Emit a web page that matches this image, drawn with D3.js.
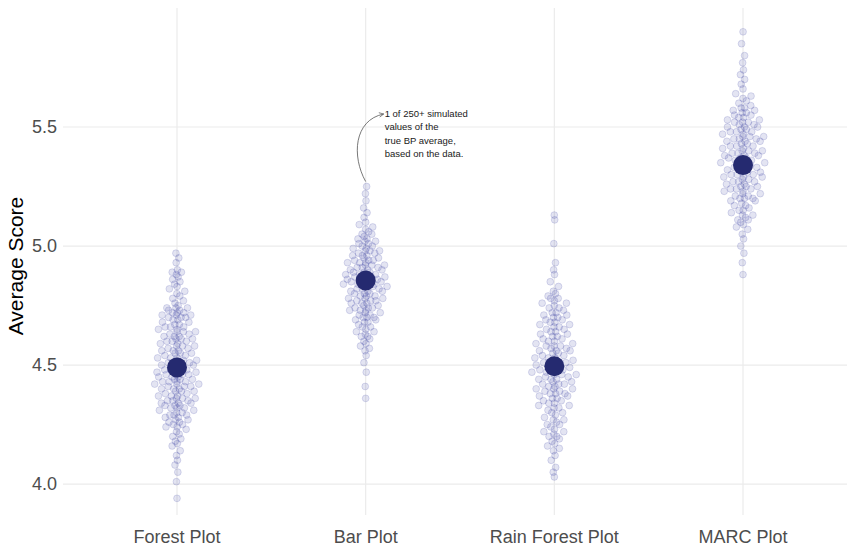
<!DOCTYPE html>
<html lang="en">
<head>
    <meta charset="UTF-8">
    <title>Average Score</title>
    <script src="https://d3js.org/d3.v7.min.js"></script>
    <style>
        body { margin: 0; background: #fff; }
        .grid line { stroke: #ebebeb; stroke-width: 1.2; }
        .tick-label { font-family: "Liberation Sans", Arial, sans-serif; font-size: 18px; fill: #4d4d4d; }
        .axis-title { font-family: "Liberation Sans", Arial, sans-serif; font-size: 21px; fill: #000; }
        .note { font-family: "Liberation Sans", Arial, sans-serif; font-size: 9.5px; fill: #1a1a1a; }
    </style>
</head>
<body>
<script>

    var width = 847,
        height = 547;

    var categories = ["Forest Plot", "Bar Plot", "Rain Forest Plot", "MARC Plot"];
    var yTicks = [4.0, 4.5, 5.0, 5.5];
    var means = [4.49, 4.855, 4.495, 5.34];

    var forestSims = [4.97, 4.95, 4.93, 4.90, 4.89, 4.87, 4.86, 4.84, 4.83, 4.81, 4.80, 4.79, 4.78, 4.77, 4.76, 4.75,
        4.74, 4.74, 4.73, 4.72, 4.72, 4.71, 4.71, 4.70, 4.70, 4.69, 4.68, 4.68, 4.67, 4.67, 4.66, 4.66, 4.65, 4.65,
        4.64, 4.64, 4.63, 4.63, 4.62, 4.62, 4.61, 4.61, 4.60, 4.60, 4.60, 4.59, 4.59, 4.58, 4.58, 4.57, 4.57, 4.56,
        4.56, 4.55, 4.55, 4.55, 4.54, 4.54, 4.53, 4.53, 4.52, 4.52, 4.52, 4.51, 4.51, 4.50, 4.50, 4.50, 4.49, 4.49,
        4.48, 4.48, 4.48, 4.47, 4.47, 4.46, 4.46, 4.46, 4.45, 4.45, 4.44, 4.44, 4.43, 4.43, 4.43, 4.42, 4.42, 4.41,
        4.41, 4.40, 4.40, 4.39, 4.39, 4.38, 4.38, 4.37, 4.37, 4.36, 4.36, 4.35, 4.35, 4.34, 4.34, 4.33, 4.33, 4.32,
        4.32, 4.31, 4.30, 4.30, 4.29, 4.29, 4.28, 4.27, 4.27, 4.26, 4.25, 4.25, 4.24, 4.23, 4.22, 4.21, 4.20, 4.19,
        4.18, 4.17, 4.16, 4.14, 4.12, 4.10, 4.08, 4.05, 4.01, 3.94,
        4.74, 4.73, 4.72, 4.71, 4.70, 4.69, 4.66, 4.64, 4.62, 4.61, 4.58, 4.56, 4.53, 4.51, 4.47, 4.44, 4.42, 4.40,
        4.39, 4.37, 4.36, 4.35, 4.34, 4.33, 4.32, 4.31, 4.29, 4.28, 4.26, 4.24, 4.89, 4.88, 4.85, 4.82, 4.46, 4.45,
        4.43, 4.41];

    var barSims = [5.25, 5.22, 5.19, 5.16, 5.14, 5.12, 5.10, 5.09, 5.08, 5.07, 5.06, 5.05, 5.04, 5.03, 5.02, 5.01,
        5.01, 5.00, 5.00, 4.99, 4.99, 4.98, 4.98, 4.97, 4.97, 4.96, 4.96, 4.95, 4.95, 4.94, 4.94, 4.93, 4.93, 4.92,
        4.92, 4.92, 4.91, 4.91, 4.90, 4.90, 4.90, 4.89, 4.89, 4.88, 4.88, 4.88, 4.87, 4.87, 4.87, 4.86, 4.86, 4.86,
        4.85, 4.85, 4.85, 4.84, 4.84, 4.84, 4.83, 4.83, 4.83, 4.82, 4.82, 4.81, 4.81, 4.81, 4.80, 4.80, 4.79, 4.79,
        4.79, 4.78, 4.78, 4.77, 4.77, 4.76, 4.76, 4.75, 4.75, 4.74, 4.74, 4.73, 4.73, 4.72, 4.72, 4.71, 4.70, 4.70,
        4.69, 4.68, 4.67, 4.66, 4.65, 4.64, 4.63, 4.62, 4.61, 4.60, 4.58, 4.56, 4.54, 4.51, 4.47, 4.41, 4.36,
        4.98, 4.96, 4.94, 4.93, 4.91, 4.89, 4.88, 4.86, 4.84, 4.82, 4.80, 4.78, 4.77, 4.76, 4.74, 4.73, 4.71, 4.70,
        4.69, 4.68, 4.66, 4.64, 4.62, 4.59, 4.57, 5.03, 5.05, 5.02, 4.87, 4.85];

    var rainForestSims = [5.13, 5.11, 5.01, 4.93, 4.90, 4.88, 4.85, 4.83, 4.81, 4.80, 4.79, 4.78, 4.77, 4.76, 4.75,
        4.74, 4.73, 4.72, 4.71, 4.70, 4.70, 4.69, 4.68, 4.68, 4.67, 4.66, 4.66, 4.65, 4.64, 4.64, 4.63, 4.62, 4.62,
        4.61, 4.60, 4.60, 4.59, 4.59, 4.58, 4.58, 4.57, 4.57, 4.56, 4.56, 4.55, 4.55, 4.54, 4.54, 4.53, 4.53, 4.52,
        4.52, 4.51, 4.51, 4.50, 4.50, 4.50, 4.49, 4.49, 4.48, 4.48, 4.47, 4.47, 4.47, 4.46, 4.46, 4.45, 4.45, 4.44,
        4.44, 4.43, 4.43, 4.42, 4.42, 4.41, 4.41, 4.40, 4.40, 4.39, 4.39, 4.38, 4.38, 4.37, 4.37, 4.36, 4.35, 4.35,
        4.34, 4.33, 4.33, 4.32, 4.31, 4.30, 4.29, 4.28, 4.27, 4.26, 4.25, 4.24, 4.23, 4.22, 4.21, 4.20, 4.19, 4.18,
        4.16, 4.14, 4.12, 4.10, 4.07, 4.05, 4.03,
        4.78, 4.76, 4.74, 4.72, 4.71, 4.69, 4.67, 4.65, 4.63, 4.61, 4.58, 4.56, 4.53, 4.51, 4.48, 4.46, 4.44, 4.42,
        4.40, 4.38, 4.36, 4.34, 4.32, 4.30, 4.27, 4.25, 4.22, 4.20, 4.17, 4.15];

    var marcSims = [5.90, 5.85, 5.80, 5.77, 5.74, 5.72, 5.70, 5.68, 5.66, 5.64, 5.63, 5.62, 5.61, 5.60, 5.59, 5.58,
        5.57, 5.57, 5.56, 5.55, 5.55, 5.54, 5.53, 5.53, 5.52, 5.52, 5.51, 5.51, 5.50, 5.50, 5.49, 5.49, 5.48, 5.48,
        5.47, 5.47, 5.46, 5.46, 5.45, 5.45, 5.44, 5.44, 5.43, 5.43, 5.42, 5.42, 5.41, 5.41, 5.40, 5.40, 5.39, 5.39,
        5.38, 5.38, 5.37, 5.37, 5.36, 5.36, 5.35, 5.35, 5.34, 5.34, 5.33, 5.33, 5.32, 5.32, 5.31, 5.31, 5.30, 5.30,
        5.29, 5.29, 5.28, 5.28, 5.27, 5.27, 5.26, 5.26, 5.25, 5.25, 5.24, 5.24, 5.23, 5.22, 5.22, 5.21, 5.20, 5.20,
        5.19, 5.18, 5.17, 5.16, 5.15, 5.14, 5.13, 5.12, 5.11, 5.10, 5.09, 5.08, 5.07, 5.05, 5.03, 5.00, 4.97, 4.93,
        4.88,
        5.58, 5.56, 5.54, 5.52, 5.50, 5.48, 5.46, 5.44, 5.42, 5.40, 5.39, 5.37, 5.35, 5.33, 5.31, 5.29, 5.27, 5.25,
        5.23, 5.21, 5.19, 5.17, 5.15, 5.13, 5.11, 5.45, 5.38, 5.30, 5.24, 5.20];

    var sims = [forestSims, barSims, rainForestSims, marcSims];

    var navy = "#252a70",
        pointBlue = "#3b3fa3";

    var x = d3.scalePoint()
        .domain(categories)
        .range([177, 743]);

    var y = d3.scaleLinear()
        .domain([3.87, 6.0])
        .range([515, 8]);

    var svg = d3.select("body").append("svg")
        .attr("width", width)
        .attr("height", height);

    // grid
    var grid = svg.append("g").attr("class", "grid");
    grid.selectAll(".hline")
        .data(yTicks)
        .enter().append("line")
        .attr("x1", 63).attr("x2", width)
        .attr("y1", function(d) { return y(d); })
        .attr("y2", function(d) { return y(d); });
    grid.selectAll(".vline")
        .data(categories)
        .enter().append("line")
        .attr("x1", function(d) { return x(d); })
        .attr("x2", function(d) { return x(d); })
        .attr("y1", y.range()[1]).attr("y2", y.range()[0]);

    // y tick labels
    svg.selectAll(".ylab")
        .data(yTicks)
        .enter().append("text")
        .attr("class", "tick-label")
        .attr("x", 57)
        .attr("y", function(d) { return y(d); })
        .attr("dy", "0.35em")
        .attr("text-anchor", "end")
        .text(function(d) { return d3.format(".1f")(d); });

    // x labels
    svg.selectAll(".xlab")
        .data(categories)
        .enter().append("text")
        .attr("class", "tick-label")
        .attr("x", function(d) { return x(d); })
        .attr("y", 543)
        .attr("text-anchor", "middle")
        .text(function(d) { return d; });

    svg.append("text")
        .attr("class", "axis-title")
        .attr("transform", "translate(23," + 266 + ") rotate(-90)")
        .attr("text-anchor", "middle")
        .text("Average Score");

    // quasirandom-style horizontal spread, scaled by a kernel density estimate
    function vdc(n) {
        var v = 0, denom = 1;
        while (n) { denom *= 2; v += (n % 2) / denom; n = Math.floor(n / 2); }
        return v;
    }

    function spread(values, maxW) {
        var sorted = values.slice().sort(d3.ascending);
        var bw = 0.045;
        var dens = sorted.map(function(v) {
            return d3.sum(sorted, function(u) { var z = (v - u) / bw; return Math.exp(-0.5 * z * z); });
        });
        var maxD = d3.max(dens);
        return sorted.map(function(v, i) {
            var u = vdc(i + 1) * 2 - 1;
            // pull points toward the centre line a little
            u = u * Math.sqrt(Math.abs(u));
            return { value: v, dx: u * maxW * dens[i] / maxD };
        });
    }

    sims.forEach(function(vals, gi) {
        var pts = spread(vals, 23);
        svg.append("g").selectAll("circle")
            .data(pts)
            .enter().append("circle")
            .attr("cx", function(d) { return x(categories[gi]) + d.dx; })
            .attr("cy", function(d) { return y(d.value); })
            .attr("r", 3.4)
            .attr("fill", pointBlue)
            .attr("fill-opacity", 0.14)
            .attr("stroke", pointBlue)
            .attr("stroke-opacity", 0.22)
            .attr("stroke-width", 0.8);
    });

    svg.append("g").selectAll(".mean")
        .data(means)
        .enter().append("circle")
        .attr("cx", function(d, i) { return x(categories[i]); })
        .attr("cy", function(d) { return y(d); })
        .attr("r", 10)
        .attr("fill", navy);

    // annotation
    var defs = svg.append("defs");
    defs.append("marker")
        .attr("id", "arrow")
        .attr("viewBox", "0 0 10 10")
        .attr("refX", 9).attr("refY", 5)
        .attr("markerWidth", 7).attr("markerHeight", 7)
        .attr("orient", "auto")
        .append("path")
        .attr("d", "M1,1 L9,5 L1,9")
        .attr("fill", "none")
        .attr("stroke", "#555")
        .attr("stroke-width", 1.2);

    var bx = x("Bar Plot");
    var startY = y(d3.max(barSims)) - 5;
    svg.append("path")
        .attr("d", "M" + bx + "," + startY + " C" + (bx - 14) + "," + (startY - 25) + " " +
            (bx - 12) + "," + (y(5.55) + 5) + " " + (bx + 18) + "," + (y(5.5) - 13))
        .attr("fill", "none")
        .attr("stroke", "#555")
        .attr("stroke-width", 0.8)
        .attr("marker-end", "url(#arrow)");

    var noteLines = ["1 of 250+ simulated", "values of the", "true BP average,", "based on the data."];
    svg.append("text")
        .attr("class", "note")
        .attr("x", bx + 19)
        .attr("y", 117)
        .selectAll("tspan")
        .data(noteLines)
        .enter().append("tspan")
        .attr("x", bx + 19)
        .attr("dy", function(d, i) { return i ? 13.4 : 0; })
        .text(function(d) { return d; });

</script>
</body>
</html>
